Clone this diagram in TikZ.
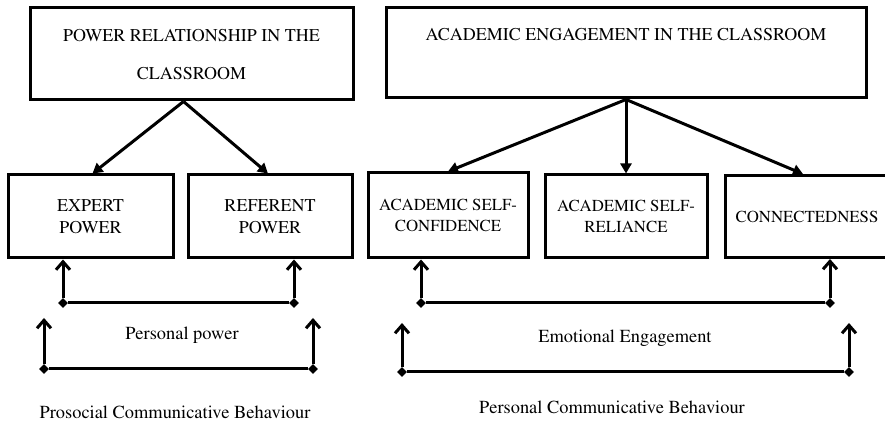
\documentclass[tikz,border=0pt]{standalone}
\usepackage[T1]{fontenc}
\usepackage{times}
\usetikzlibrary{arrows.meta,shapes.geometric}
\tikzset{
  box/.style={draw,line width=1.5pt,inner sep=0pt,align=center,font=\fontsize{9}{11}\selectfont},
  smallbox/.style={box,font=\fontsize{8.4}{10.5}\selectfont},
  down/.style={line width=1.5pt,-{Triangle[length=5pt,width=5.5pt]}},
  up/.style={line width=1.5pt,-{Straight Barb[length=4pt,width=7pt]}},
  link/.style={line width=1.5pt},
  joint/.style={diamond,fill,inner sep=0pt,minimum size=5pt},
  caption/.style={inner sep=1pt,font=\fontsize{9.2}{11}\selectfont}
}

\begin{document}
\begin{tikzpicture}[x=0.5pt,y=-0.5pt]
\useasboundingbox (0,0) rectangle (885,422);

% top boxes
\node[box,minimum width=161.5pt,minimum height=46pt] (PR) at (191.5,54)
  {POWER RELATIONSHIP IN THE\\[8pt] CLASSROOM};
\node[box,minimum width=240pt,minimum height=45pt] (AE) at (626,53)
  {ACADEMIC ENGAGEMENT IN THE CLASSROOM\\[8pt] \mbox{}};

% second row
\node[box,minimum width=82.5pt,minimum height=41.5pt] (EX) at (90.5,216.5) {EXPERT\\POWER};
\node[box,minimum width=82pt,minimum height=41.5pt] (RF) at (270,216.5) {REFERENT\\POWER};
\node[smallbox,minimum width=80pt,minimum height=42.5pt] (SC) at (448,215.5) {ACADEMIC SELF-\\CONFIDENCE};
\node[smallbox,minimum width=81pt,minimum height=41.5pt] (SR) at (626,216.5) {ACADEMIC SELF-\\RELIANCE};
\node[smallbox,minimum width=82pt,minimum height=41pt] (CN) at (807,216.5) {CONNECTEDNESS};

\draw[down] ([xshift=-4pt]PR.south) -- ([xshift=1pt]EX.north);
\draw[down] ([xshift=-4pt]PR.south) -- ([xshift=-1pt]RF.north);
\draw[down] (AE.south) -- (SC.north);
\draw[down] (AE.south) -- (SR.north);
\draw[down] (AE.south) -- ([xshift=-2pt]CN.north);

% brackets, left
\node[joint] (E1) at (63,303) {};
\node[joint] (E2) at (294,303) {};
\draw[up] (E1) -- (E1 |- EX.south);
\draw[up] (E2) -- (E2 |- RF.south);
\draw[link] (E1) -- (E2);

\node[joint] (K1) at (44,369) {};
\node[joint] (K2) at (313,369) {};
\coordinate (T1) at (44,318);
\coordinate (T2) at (313,318);
\draw[up] (K1) -- (T1);
\draw[up] (K2) -- (T2);
\draw[link] (K1) -- (K2);

% brackets, right
\node[joint] (F1) at (421,303) {};
\node[joint] (F2) at (830,303) {};
\draw[up] (F1) -- (F1 |- SC.south);
\draw[up] (F2) -- (F2 |- CN.south);
\draw[link] (F1) -- (F2);

\node[joint] (L1) at (402,372) {};
\node[joint] (L2) at (849,372) {};
\coordinate (U1) at (402,323);
\coordinate (U2) at (849,323);
\draw[up] (L1) -- (U1);
\draw[up] (L2) -- (U2);
\draw[link] (L1) -- (L2);

% labels
\node[caption] (PP) at (182,335) {Personal power};
\node[caption] (PCB) at (175,412) {Prosocial Communicative Behaviour};
\node[caption] (EE) at (625,338) {Emotional Engagement};
\node[caption] (PRB) at (612,407) {Personal Communicative Behaviour};

\end{tikzpicture}
\end{document}
